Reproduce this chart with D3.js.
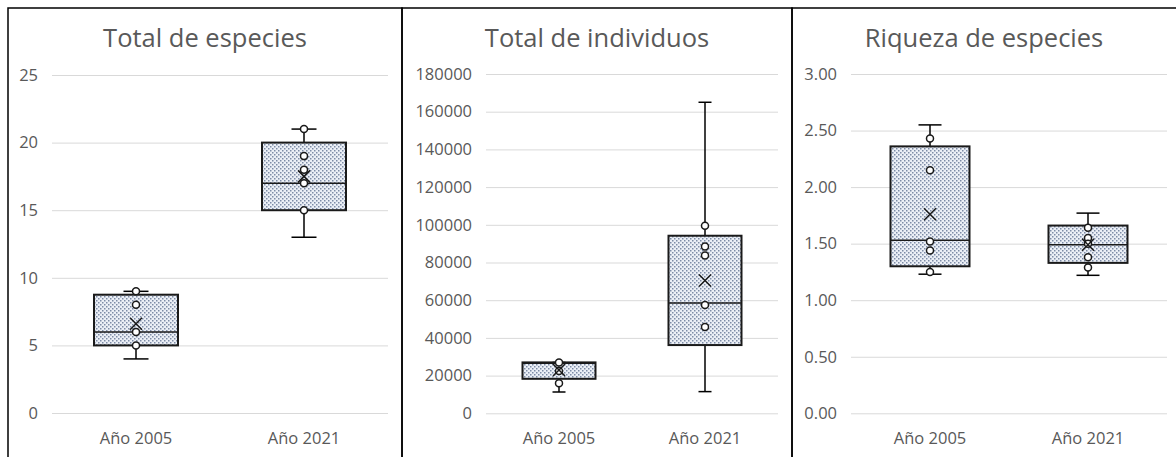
<!DOCTYPE html>
<html>
<head>
<meta charset="utf-8">
<script src="https://cdn.jsdelivr.net/npm/d3@7"></script>
<style>
  html, body { margin: 0; padding: 0; background: #fff; }
  svg { display: block; }
  text { font-family: "Open Sans", "DejaVu Sans", sans-serif; fill: #595959; }
</style>
</head>
<body>
<svg id="chart" width="1176" height="457"></svg>
<script>
// Shared categories
const categories = ["Año 2005", "Año 2021"];

// Total de especies
const especiesWhisker   = [[4, 9], [13, 21]];
const especiesQuartiles = [[5, 6, 8.75], [15, 17, 20]];
const especiesMean      = [6.6, 17.5];
const especiesPoints    = [[9, 8, 6, 5], [21, 19, 18, 17, 15]];
const especiesTicks     = [0, 5, 10, 15, 20, 25];

// Total de individuos
const individuosWhisker   = [[11300, 27000], [11500, 165000]];
const individuosQuartiles = [[18300, 26500, 27000], [36200, 58500, 94200]];
const individuosMean      = [23000, 70500];
const individuosPoints    = [[27000, 22500, 16000], [99500, 88500, 83700, 57400, 45800]];
const individuosTicks     = [0, 20000, 40000, 60000, 80000, 100000, 120000, 140000, 160000, 180000];

// Riqueza de especies
const riquezaWhisker   = [[1.23, 2.55], [1.22, 1.77]];
const riquezaQuartiles = [[1.30, 1.53, 2.36], [1.33, 1.49, 1.66]];
const riquezaMean      = [1.76, 1.49];
const riquezaPoints    = [[2.43, 2.15, 1.52, 1.44, 1.25], [1.64, 1.55, 1.50, 1.38, 1.29]];
const riquezaTicks     = [0, 0.5, 1, 1.5, 2, 2.5, 3];

const svg = d3.select("#chart");

// Dotted fill used inside every box
const defs = svg.append("defs");
const pat = defs.append("pattern")
  .attr("id", "dots").attr("patternUnits", "userSpaceOnUse")
  .attr("width", 4).attr("height", 4);
pat.append("rect").attr("width", 4).attr("height", 4).attr("fill", "#ebeff6");
pat.append("rect").attr("x", 0).attr("y", 0).attr("width", 1.5).attr("height", 1.5).attr("fill", "#7d8ca6");
pat.append("rect").attr("x", 2).attr("y", 2).attr("width", 1.5).attr("height", 1.5).attr("fill", "#7d8ca6");

const panels = [
  { title: "Total de especies", frame: [8, 402], plot: [52, 388], yRange: [413, 75],
    whisker: especiesWhisker, quart: especiesQuartiles, mean: especiesMean,
    points: especiesPoints, ticks: especiesTicks, fmt: d3.format("d"), cap: 25 },
  { title: "Total de individuos", frame: [402, 792], plot: [486, 778], yRange: [413.3, 74],
    whisker: individuosWhisker, quart: individuosQuartiles, mean: individuosMean,
    points: individuosPoints, ticks: individuosTicks, fmt: d3.format("d"), cap: 13 },
  { title: "Riqueza de especies", frame: [792, 1182], plot: [851, 1167], yRange: [413.3, 74],
    whisker: riquezaWhisker, quart: riquezaQuartiles, mean: riquezaMean,
    points: riquezaPoints, ticks: riquezaTicks, fmt: d3.format(".2f"), cap: 23 }
];

panels.forEach(p => {
  const g = svg.append("g");
  const x = d3.scaleBand().domain(categories).range(p.plot).padding(0);
  const y = d3.scaleLinear()
    .domain([p.ticks[0], p.ticks[p.ticks.length - 1]])
    .range(p.yRange);
  const plotW = p.plot[1] - p.plot[0];

  // Title
  g.append("text")
    .attr("x", (p.frame[0] + p.frame[1]) / 2 - (p.frame[1] > 1176 ? 3 : 0))
    .attr("y", 47)
    .attr("text-anchor", "middle")
    .attr("font-size", 25.5)
    .text(p.title);

  // Y axis with gridlines
  const yAxis = g.append("g")
    .attr("transform", `translate(${p.plot[0]},0)`)
    .call(d3.axisLeft(y).tickValues(p.ticks).tickFormat(p.fmt)
      .tickSize(-plotW).tickPadding(14));
  yAxis.select(".domain").remove();
  yAxis.selectAll(".tick line").attr("stroke", "#d9d9d9").attr("stroke-width", 1);
  yAxis.selectAll(".tick text").attr("font-size", 16.5).attr("fill", "#595959")
    .style("font-family", '"Open Sans", sans-serif');

  // X axis labels
  const xAxis = g.append("g")
    .attr("transform", `translate(0,${p.yRange[0]})`)
    .call(d3.axisBottom(x).tickSize(0).tickPadding(19));
  xAxis.select(".domain").remove();
  xAxis.selectAll(".tick text").attr("font-size", 16.5).attr("fill", "#595959")
    .style("font-family", '"Open Sans", sans-serif');

  const bw = x.bandwidth() * 0.5;

  categories.forEach((c, i) => {
    const cx = x(c) + x.bandwidth() / 2;
    const [lo, hi] = p.whisker[i];
    const [q1, med, q3] = p.quart[i];
    const bg = g.append("g");

    // Whiskers
    bg.append("line").attr("x1", cx).attr("x2", cx).attr("y1", y(q3)).attr("y2", y(hi))
      .attr("stroke", "#000").attr("stroke-width", 1.5);
    bg.append("line").attr("x1", cx).attr("x2", cx).attr("y1", y(q1)).attr("y2", y(lo))
      .attr("stroke", "#000").attr("stroke-width", 1.5);
    [lo, hi].forEach(v => {
      bg.append("line").attr("x1", cx - p.cap / 2).attr("x2", cx + p.cap / 2)
        .attr("y1", y(v)).attr("y2", y(v)).attr("stroke", "#000").attr("stroke-width", 1.5);
    });

    // Box
    bg.append("rect")
      .attr("x", cx - bw / 2).attr("width", bw)
      .attr("y", y(q3)).attr("height", y(q1) - y(q3))
      .attr("fill", "url(#dots)").attr("stroke", "#1a1a1a").attr("stroke-width", 2);

    // Median
    bg.append("line").attr("x1", cx - bw / 2).attr("x2", cx + bw / 2)
      .attr("y1", y(med)).attr("y2", y(med)).attr("stroke", "#1a1a1a").attr("stroke-width", 1.5);

    // Inner points
    bg.selectAll("circle.pt").data(p.points[i]).join("circle")
      .attr("class", "pt")
      .attr("cx", cx).attr("cy", d => y(d)).attr("r", 3.5)
      .attr("fill", "#fff").attr("stroke", "#1a1a1a").attr("stroke-width", 1.5);

    // Mean marker
    const my = y(p.mean[i]), s = 6;
    bg.append("path")
      .attr("d", `M${cx - s},${my - s}L${cx + s},${my + s}M${cx - s},${my + s}L${cx + s},${my - s}`)
      .attr("stroke", "#1a1a1a").attr("stroke-width", 1.5).attr("fill", "none");
  });

  // Panel frame
  g.append("rect")
    .attr("x", p.frame[0]).attr("y", 8)
    .attr("width", p.frame[1] - p.frame[0]).attr("height", 460)
    .attr("fill", "none").attr("stroke", "#000").attr("stroke-width", 1.5);
});
</script>
</body>
</html>
